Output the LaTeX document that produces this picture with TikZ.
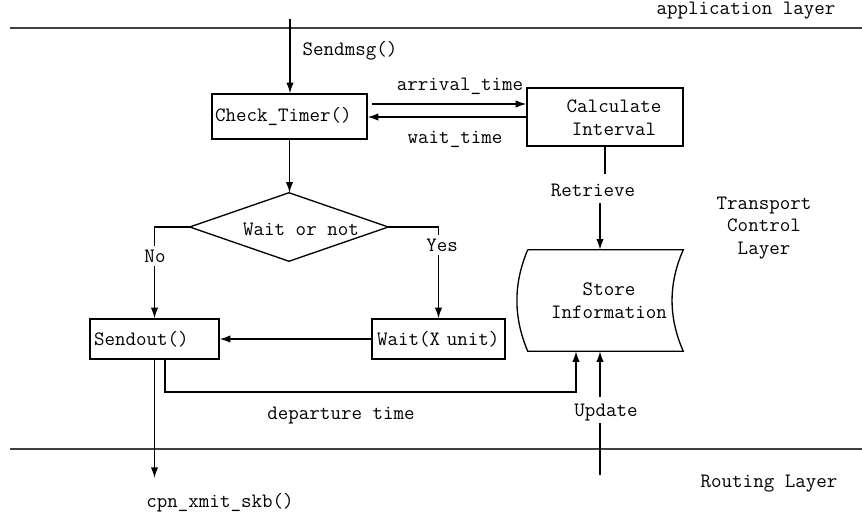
\documentclass[tikz,border=0pt]{standalone}
\usetikzlibrary{arrows.meta}
\begin{document}
\begin{tikzpicture}[x=0.75pt,y=-0.75pt,
  every node/.style={font=\ttfamily\fontsize{15.3}{17}\selectfont},
  conn/.style={line width=1pt, draw=black},
  arr/.style={conn, -{Latex[length=8pt,width=5.5pt]}},
  layerline/.style={line width=1.5pt, draw=black!75},
  box/.style={draw, line width=1pt, align=left, inner ysep=0pt, inner xsep=#1},
  shapebox/.style={inner sep=0pt},
  lbl/.style={fill=white, inner sep=2.5pt},
  txt/.style={inner sep=0pt, align=center}]
\useasboundingbox (0,0) rectangle (862,520);

% layer separators
\draw[layerline] (10,28) -- (862,28);
\draw[layerline] (10,449) -- (862,449);

% boxes
\node[box=2.25pt, text width=111.75pt, minimum height=33.75pt] (check) at (289.5,116.5) {\mbox{Check\_Timer()}};
\node[box=3pt, text width=90.75pt, minimum height=30pt] (send) at (154.5,339) {\mbox{Sendout()}};
\node[box=3.75pt, text width=92.25pt, minimum height=30pt] (wait) at (438.5,339) {\mbox{Wait(X unit)}};
\node[draw, line width=1pt, minimum width=117pt, minimum height=43.5pt, inner sep=0pt] (calc) at (605,117) {};
\node[txt] (calctxt) at (614,117.5) {Calculate\\Interval};

% decision
\node[shapebox, minimum width=148.5pt, minimum height=51pt] (dia) at (289,227) {};
\draw[conn] (dia.west) -- (dia.north) -- (dia.east) -- (dia.south) -- cycle;
\node[txt] (diatxt) at (301,229) {Wait or not};

% store
\node[shapebox, minimum width=116.25pt, minimum height=75.75pt] (store) at (605.5,300.5) {};
\draw[conn] (store.north west) -- (store.north east)
  .. controls (668.3,283.7) and (668.3,317.3) .. (store.south east)
  -- (store.south west)
  .. controls (513.3,317.3) and (513.3,283.7) .. (store.north west);
\node[txt] (storetxt) at (609,300.5) {Store\\Information};

% connectors
\coordinate (s0) at (290,19);
\draw[arr] (s0) -- (s0 |- check.north);
\coordinate (a1) at (372,104);
\draw[arr] (a1) -- (a1 -| calc.west);
\draw[arr] (calc.west) -- (calc.west -| check.east);
\draw[arr] (check.south) -- (check.south |- dia.north);
\draw[arr] (dia.west) -| (send.north);
\draw[arr] (dia.east) -| (wait.north);
\draw[arr] (wait.west) -- (send.east);
\coordinate (c0) at (154.5,478);
\draw[arr] (send.south) -- (c0);
\coordinate (d1) at (165,392);
\coordinate (d2) at (576,392);
\draw[arr] (d1 |- send.south) -- (d1) -- (d2) -- (d2 |- store.south);
\coordinate (r1) at (606,174);
\coordinate (r2) at (600,203);
\draw[conn] (calc.south) -- (calc.south |- r1);
\draw[arr] (r2) -- (r2 |- store.north);
\coordinate (u1) at (600,475);
\coordinate (u2) at (600,423);
\coordinate (u3) at (600,397);
\draw[conn] (u1) -- (u2);
\draw[arr] (u3) -- (u3 |- store.south);

% labels
\node[lbl] (nolbl) at (155,256) {No};
\node[lbl] (yeslbl) at (442,245) {Yes};
\node[txt] (applbl) at (746,11) {application layer};
\node[txt] (sendmsg) at (350,51) {Sendmsg()};
\node[txt] (arrlbl) at (460,86) {arrival\_time};
\node[txt] (waitlbl) at (455,139) {wait\_time};
\node[txt] (retr) at (593,190) {Retrieve};
\node[txt] (tcl) at (764,228) {Transport\\Control\\Layer};
\node[txt] (dep) at (341,416) {departure time};
\node[txt] (upd) at (606,413) {Update};
\node[txt] (cpn) at (220,503) {cpn\_xmit\_skb()};
\node[txt] (rout) at (769,484) {Routing Layer};
\end{tikzpicture}
\end{document}
